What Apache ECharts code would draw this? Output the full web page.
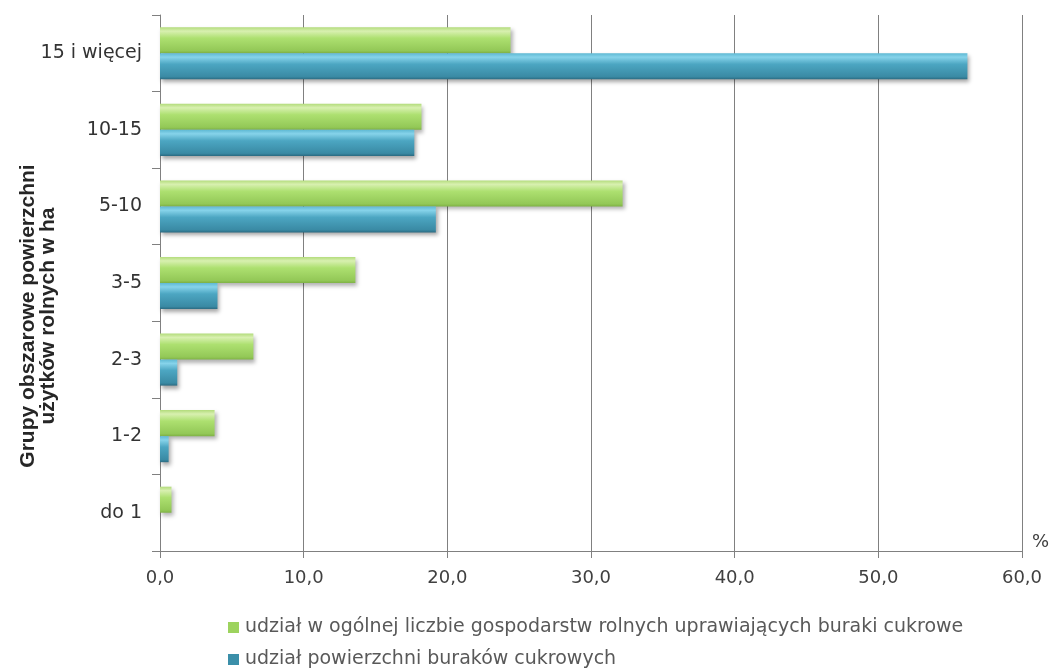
<!DOCTYPE html>
<html>
<head>
<meta charset="utf-8">
<script src="https://cdn.jsdelivr.net/npm/echarts@6/dist/echarts.min.js"></script>
<style>
html,body{margin:0;padding:0;background:#fff;}
#chart{width:1056px;height:670px;}
</style>
</head>
<body>
<div id="chart"></div>
<script>
// Data (bottom to top on the y axis)
var categories = ['do 1', '1-2', '2-3', '3-5', '5-10', '10-15', '15 i więcej'];
var seriesGreenName = 'udział w ogólnej liczbie gospodarstw rolnych uprawiających buraki cukrowe';
var seriesBlueName = 'udział powierzchni buraków cukrowych';
var greenValues = [0.8, 3.8, 6.5, 13.6, 32.2, 18.2, 24.4];
var blueValues = [0.0, 0.6, 1.2, 4.0, 19.2, 17.7, 56.2];
var xTickLabels = ['0,0', '10,0', '20,0', '30,0', '40,0', '50,0', '60,0'];
var yTitle = 'Grupy obszarowe powierzchni\nużytków rolnych w ha';

var chart = echarts.init(document.getElementById('chart'), null, {renderer: 'canvas'});
var FONT = '"DejaVu Sans", Verdana, sans-serif';
var TFONT = 'Arial, "Liberation Sans", sans-serif';

var greenFill = new echarts.graphic.LinearGradient(0, 0, 0, 1, [
  {offset: 0, color: '#b3dc7c'},
  {offset: 0.15, color: '#d8f0b0'},
  {offset: 0.42, color: '#ade070'},
  {offset: 0.9, color: '#93c857'},
  {offset: 1, color: '#7fb245'}
]);
var blueFill = new echarts.graphic.LinearGradient(0, 0, 0, 1, [
  {offset: 0, color: '#5fb9d4'},
  {offset: 0.15, color: '#86d3ea'},
  {offset: 0.42, color: '#4ca6c2'},
  {offset: 0.9, color: '#3a8aa4'},
  {offset: 1, color: '#2b6b82'}
]);

function legendFor(name, top, iconColor) {
  return {
    orient: 'horizontal',
    left: 228,
    top: top,
    padding: 0,
    itemWidth: 11,
    itemHeight: 11,
    icon: 'rect',
    data: [name],
    itemStyle: {color: iconColor, shadowBlur: 0, shadowOffsetX: 0, shadowOffsetY: 0},
    textStyle: {fontFamily: FONT, fontSize: 19, color: '#595959', padding: [0, 0, 0, 1]}
  };
}

var option = {
  backgroundColor: '#ffffff',
  animation: false,
  grid: {left: 160, right: 34, top: 15, bottom: 119, containLabel: false},
  legend: [legendFor(seriesGreenName, 618, '#9dd35e'), legendFor(seriesBlueName, 650, '#3b8fa9')],
  xAxis: {
    type: 'value',
    min: 0,
    max: 60,
    interval: 10,
    name: '%',
    nameLocation: 'end',
    nameGap: 10,
    nameTextStyle: {fontFamily: FONT, fontSize: 18, color: '#404040', verticalAlign: 'bottom', align: 'left'},
    axisLine: {show: true, lineStyle: {color: '#808080', width: 1}},
    axisTick: {show: true, length: 7, lineStyle: {color: '#808080'}},
    axisLabel: {
      fontFamily: FONT, fontSize: 18, color: '#404040', margin: 18,
      formatter: function (v) { return xTickLabels[Math.round(v / 10)]; }
    },
    splitLine: {show: true, lineStyle: {color: '#808080', width: 1}}
  },
  yAxis: {
    type: 'category',
    data: categories,
    axisLine: {show: true, lineStyle: {color: '#808080', width: 1}},
    axisTick: {show: true, length: 8, inside: false, lineStyle: {color: '#808080'}},
    axisLabel: {fontFamily: FONT, fontSize: 19, color: '#333333', margin: 18},
    splitLine: {show: false}
  },
  graphic: [{
    type: 'text',
    x: 38,
    y: 316,
    rotation: Math.PI / 2,
    style: {
      text: yTitle,
      font: 'bold 21px ' + TFONT,
      fill: '#262626',
      align: 'center',
      verticalAlign: 'middle',
      lineHeight: 20
    }
  }],
  series: [
    {
      name: seriesGreenName,
      type: 'bar',
      data: greenValues,
      barGap: '0%',
      barCategoryGap: '32%',
      itemStyle: {
        color: greenFill,
        shadowColor: 'rgba(0,0,0,0.3)',
        shadowBlur: 4,
        shadowOffsetX: 2,
        shadowOffsetY: 3
      }
    },
    {
      name: seriesBlueName,
      type: 'bar',
      data: blueValues,
      barGap: '0%',
      barCategoryGap: '32%',
      itemStyle: {
        color: blueFill,
        shadowColor: 'rgba(0,0,0,0.35)',
        shadowBlur: 4,
        shadowOffsetX: 2,
        shadowOffsetY: 3
      }
    }
  ]
};
chart.setOption(option);
</script>
</body>
</html>
